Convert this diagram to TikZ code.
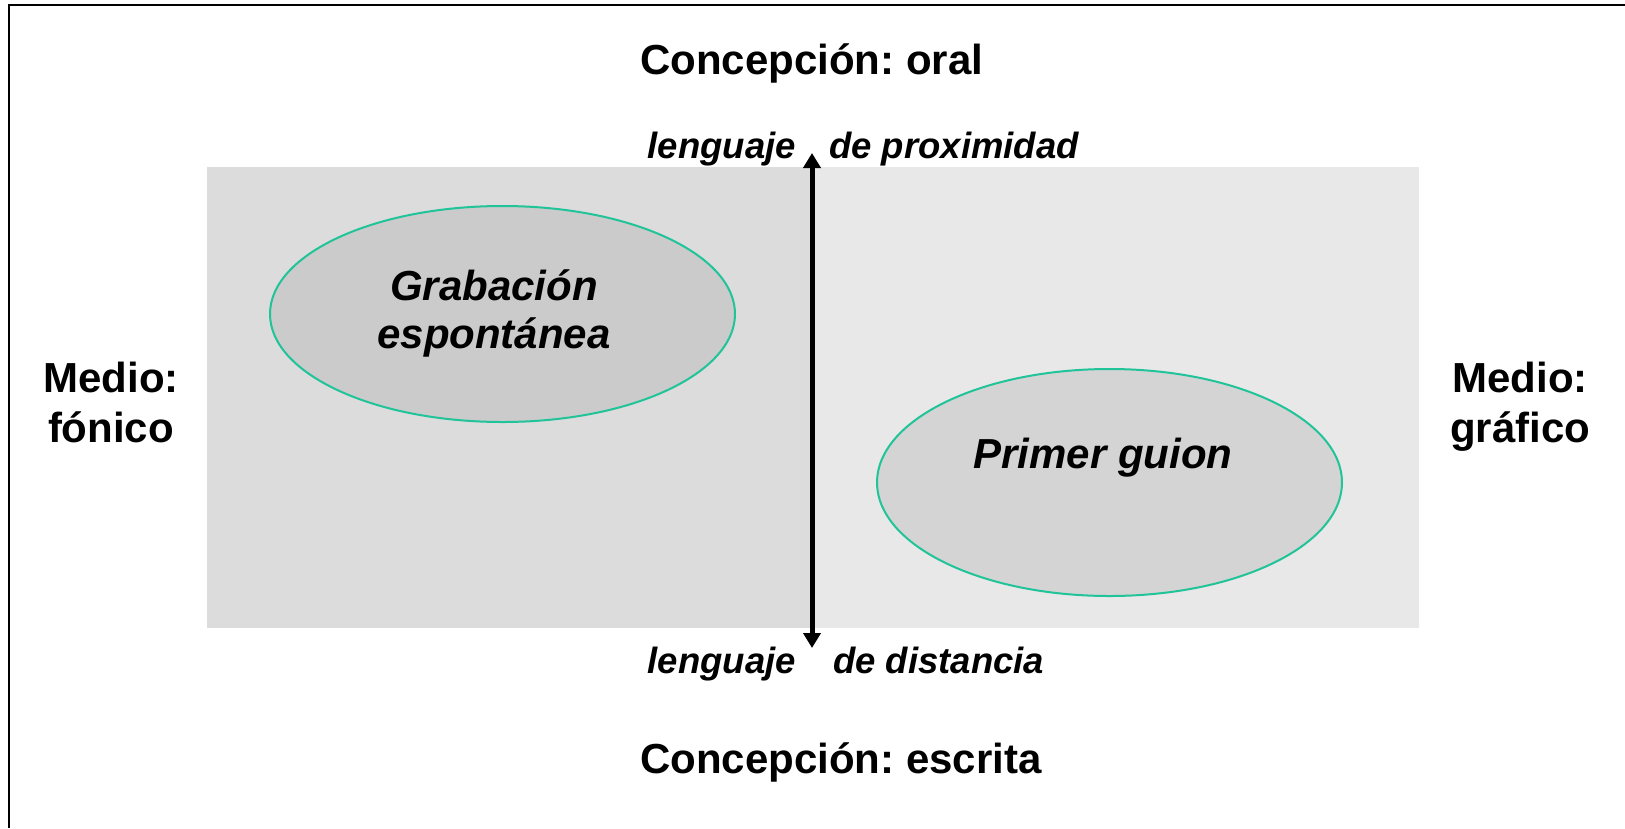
\documentclass[tikz,border=0pt]{standalone}
\usepackage{fontspec}
\setmainfont{Liberation Sans}
\usetikzlibrary{positioning}
\usetikzlibrary{arrows.meta,shapes}
\frenchspacing

\definecolor{leftgray}{RGB}{220,220,220}
\definecolor{rightgray}{RGB}{232,232,232}
\definecolor{blobgray}{RGB}{203,203,203}
\definecolor{blobgraytwo}{RGB}{212,212,212}
\definecolor{mintline}{RGB}{32,196,152}

\tikzset{
  bigtxt/.style={font=\fontsize{42}{48}\selectfont\bfseries, inner sep=0},
  bigit/.style={font=\fontsize{42}{48}\selectfont\bfseries\itshape, inner sep=0},
  smallit/.style={font=\fontsize{36.5}{42}\selectfont\bfseries\itshape, inner sep=0},
  blob/.style={ellipse, draw=mintline, line width=2pt, inner sep=0,
    minimum width=465pt},
  axisline/.style={line width=5pt, {Triangle[length=15pt,width=17pt]}-{Triangle[length=15pt,width=17pt]}}
}

\begin{document}
\begin{tikzpicture}[x=1pt,y=-1pt]
  \useasboundingbox (0,0) rectangle (1625,828);

	\def\midx{812};
	\def\topy{167};
	\def\boty{628};

  % frame, only top and left are visible
  \draw[line width=2.5pt] (1625,5) -- (9,5) -- (9,828);

  % the two halves
  \fill[leftgray] (207,\topy) rectangle (\midx,\boty);
  \fill[rightgray] (\midx,\topy) rectangle (1419,\boty);

  % ellipses
  \node[blob, fill=blobgray, minimum height=216pt] (grab) at (502.5,314) {};
  \node[blob, fill=blobgraytwo, minimum height=227pt] (guion) at (1109.5,482.5) {};
  \node[bigit, anchor=base] (grabA) at (494,300) {Grabación};
  \node[bigit, anchor=base] (grabB) at (494,348) {espontánea};
  \node[bigit, anchor=base] (guionA) at (1103,468) {Primer guion};

  % axis
  \coordinate (up) at (\midx,153);
  \coordinate (down) at (\midx,648);
  \draw[axisline] (up) -- (down);

  \foreach \yy/\xx/\rest/\name in {158/829/de proximidad/prox, 673/833/de distancia/dist} {
	\node[smallit, anchor=base east] (leng\name) at (796,\yy) {lenguaje};
	\node[smallit, anchor=base west] (\name) at (\xx,\yy) {\rest};
  }

  % titles
  \node[bigtxt, anchor=base west] (oral) at (640,74) {Concepción: oral};
  \node[bigtxt, anchor=base west] (escrita) at (640,773) {Concepción: escrita};

  \node[bigtxt, anchor=base] (medioL) at (111,392) {Medio:};
  \node[bigtxt, anchor=base] (fonico) at (111,442) {fónico};
  \node[bigtxt, anchor=base] (medioR) at (1520,392) {Medio:};
  \node[bigtxt, anchor=base] (grafico) at (1520,442) {gráfico};

\end{tikzpicture}
\end{document}
